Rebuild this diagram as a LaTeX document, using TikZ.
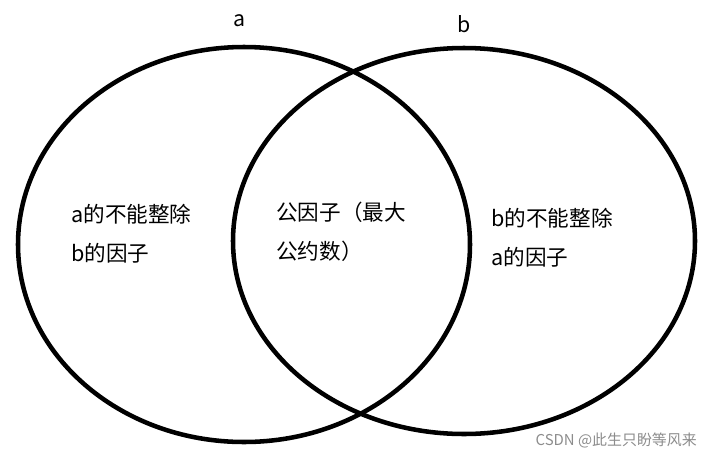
\documentclass[tikz,border=0pt]{standalone}
\usepackage{fontspec}
\setmainfont{Noto Sans CJK SC}
\usepackage{tikz}
\usetikzlibrary{positioning}

\begin{document}
\begin{tikzpicture}[
  x=0.75pt, y=-0.75pt,
  setline/.style={draw, line width=3.4pt},
  lbl/.style={font=\fontsize{16}{18}\selectfont, inner sep=0pt},
  region/.style={font=\fontsize{16.2}{29}\selectfont, align=left, anchor=west, inner sep=0pt},
  wmark/.style={font=\fontsize{11.2}{12}\selectfont, text=black!45, anchor=east, inner sep=0pt}
]
\useasboundingbox (0,0) rectangle (711,458);
% two sets
\coordinate (ca) at (244,244.5);
\coordinate (cb) at (464,241);
\draw[setline] (ca) ellipse [x radius=226, y radius=197.5];
\draw[setline] (cb) ellipse [x radius=231, y radius=193];
\node[lbl] (namea) at (240,21) {a};
\node[lbl] (nameb) at (464,24) {b};
% regions
\node[region] (onlya) at (71,234) {a的不能整除\\b的因子};
\node[region] (both) at (276,232) {公因子（最大\\公约数）};
\node[region] (onlyb) at (491,238) {b的不能整除\\a的因子};
\node[wmark] (wm) at (697,440) {CSDN @此生只盼等风来};
\end{tikzpicture}
\end{document}
